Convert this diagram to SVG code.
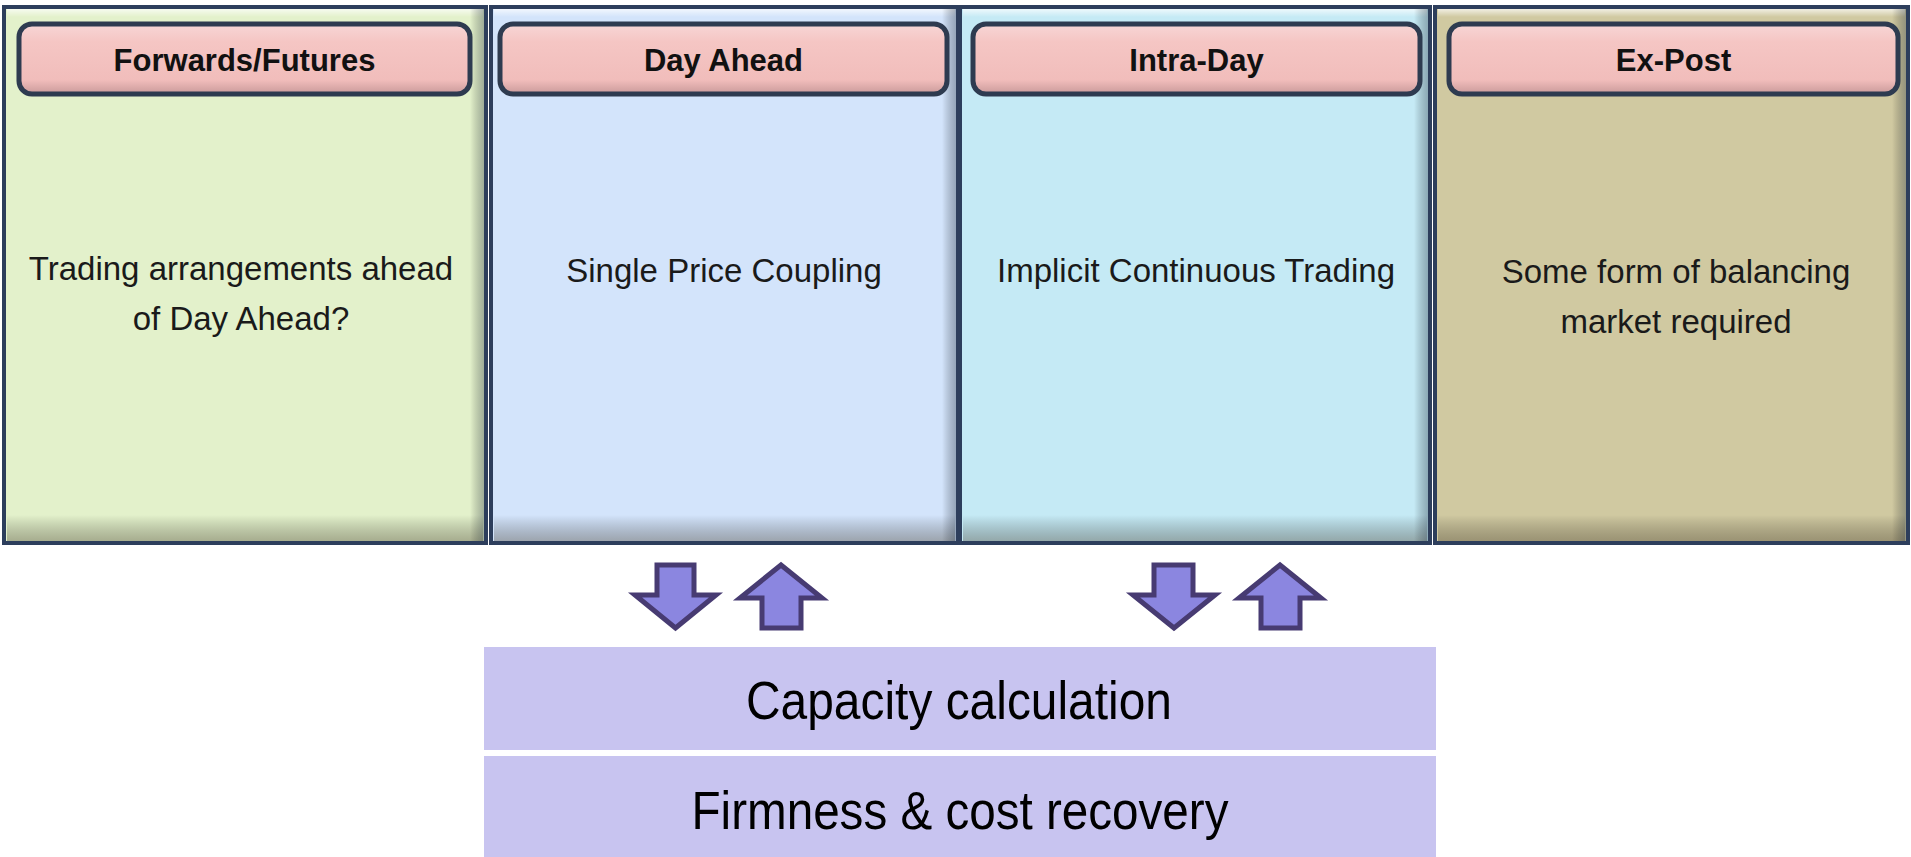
<svg xmlns="http://www.w3.org/2000/svg" width="1911" height="857" viewBox="0 0 1911 857">
<defs>
<linearGradient id="btn" x1="0" y1="0" x2="0" y2="1">
<stop offset="0" stop-color="#f7d6d6"/>
<stop offset="0.25" stop-color="#f5c6c4"/>
<stop offset="0.8" stop-color="#f1bdbb"/>
<stop offset="1" stop-color="#c99a9a"/>
</linearGradient>
<linearGradient id="shadeB" x1="0" y1="0" x2="0" y2="1">
<stop offset="0" stop-color="#000" stop-opacity="0"/>
<stop offset="1" stop-color="#3a3020" stop-opacity="0.35"/>
</linearGradient>
<linearGradient id="shadeR" x1="0" y1="0" x2="1" y2="0">
<stop offset="0" stop-color="#000" stop-opacity="0"/>
<stop offset="1" stop-color="#203040" stop-opacity="0.35"/>
</linearGradient>
<linearGradient id="hiT" x1="0" y1="0" x2="0" y2="1">
<stop offset="0" stop-color="#fff" stop-opacity="0.7"/>
<stop offset="1" stop-color="#fff" stop-opacity="0"/>
</linearGradient>
</defs>
<style>
.panel{stroke:#2d3e5c;stroke-width:4}
.btn{fill:url(#btn);stroke:#2e3b50;stroke-width:5}
.htxt{font-family:"Liberation Sans",Arial,sans-serif;font-weight:bold;font-size:31px;fill:#111;text-anchor:middle}
.btxt{font-family:"Liberation Sans",Arial,sans-serif;font-size:33px;fill:#1a1a1a;text-anchor:middle}
.box{fill:#c8c4f0}
.ctxt{font-family:"Liberation Sans",Arial,sans-serif;font-size:54px;fill:#000;text-anchor:middle}
.arr{fill:#8b86e0;stroke:#473b72;stroke-width:5;stroke-linejoin:miter}
</style>
<rect width="1911" height="857" fill="#fff"/>

<g id="forwards">
<rect class="panel" x="4" y="7" width="482" height="536" fill="#e3f1cb"/>
<rect x="7" y="9" width="476" height="8" fill="url(#hiT)"/>
<rect x="7" y="515" width="476" height="26" fill="url(#shadeB)"/>
<rect x="470" y="9" width="14" height="532" fill="url(#shadeR)"/>
<rect class="btn" x="19" y="24" width="451" height="70" rx="13"/>
<text class="htxt" x="244.5" y="71">Forwards/Futures</text>
<text class="btxt" x="241" y="280">Trading arrangements  ahead</text>
<text class="btxt" x="241" y="330">of Day Ahead?</text>
</g>

<g id="dayahead">
<rect class="panel" x="491" y="7" width="467" height="536" fill="#d3e4fb"/>
<rect x="494" y="9" width="461" height="8" fill="url(#hiT)"/>
<rect x="494" y="515" width="461" height="26" fill="url(#shadeB)"/>
<rect x="942" y="9" width="14" height="532" fill="url(#shadeR)"/>
<rect class="btn" x="500" y="24" width="447" height="70" rx="13"/>
<text class="htxt" x="723.5" y="71">Day Ahead</text>
<text class="btxt" x="724" y="282">Single Price Coupling</text>
</g>

<g id="intraday">
<rect class="panel" x="960" y="7" width="470" height="536" fill="#c5eaf5"/>
<rect x="963" y="9" width="464" height="8" fill="url(#hiT)"/>
<rect x="963" y="515" width="464" height="26" fill="url(#shadeB)"/>
<rect x="1414" y="9" width="14" height="532" fill="url(#shadeR)"/>
<rect class="btn" x="973" y="24" width="447" height="70" rx="13"/>
<text class="htxt" x="1196.5" y="71">Intra-Day</text>
<text class="btxt" x="1196" y="282">Implicit Continuous Trading</text>
</g>

<g id="expost">
<rect class="panel" x="1435" y="7" width="473" height="536" fill="#d0c9a1"/>
<rect x="1438" y="9" width="467" height="8" fill="url(#hiT)"/>
<rect x="1438" y="515" width="467" height="26" fill="url(#shadeB)"/>
<rect x="1892" y="9" width="14" height="532" fill="url(#shadeR)"/>
<rect class="btn" x="1449" y="24" width="449" height="70" rx="13"/>
<text class="htxt" x="1673.5" y="71">Ex-Post</text>
<text class="btxt" x="1676" y="283">Some form of balancing</text>
<text class="btxt" x="1676" y="333">market required</text>
</g>

<g id="capacity">
<rect class="box" x="484" y="647" width="952" height="103"/>
<text class="ctxt" x="959" y="719" textLength="426" lengthAdjust="spacingAndGlyphs">Capacity calculation</text>
</g>

<g id="firmness">
<rect class="box" x="484" y="756" width="952" height="101"/>
<text class="ctxt" x="960" y="829" textLength="537" lengthAdjust="spacingAndGlyphs">Firmness &amp; cost recovery</text>
</g>

<g id="connectors">
<polygon class="arr" points="657,565 694,565 694,595 716,595 675.5,628 635,595 657,595"/>
<polygon class="arr" points="781,565 822,598 801,598 801,628 762,628 762,598 740,598"/>
<polygon class="arr" points="1154,565 1193,565 1193,595 1215,595 1174,628 1133,595 1154,595"/>
<polygon class="arr" points="1280,565 1321,598 1300,598 1300,628 1261,628 1261,598 1239,598"/>
</g>
</svg>
